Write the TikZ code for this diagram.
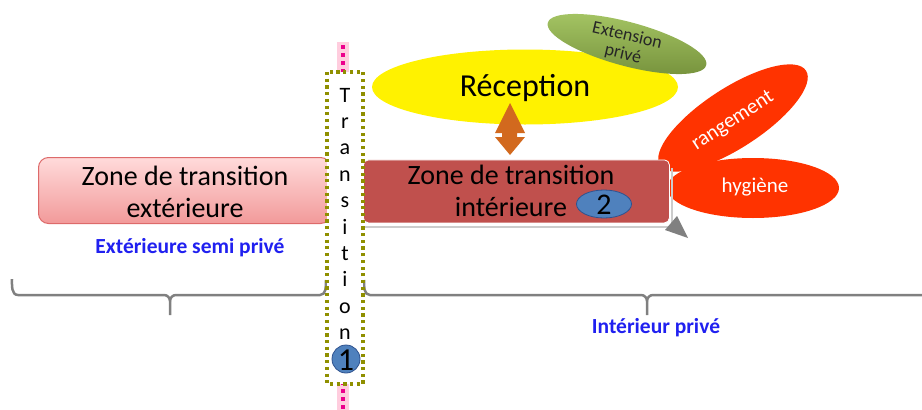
\documentclass[tikz,border=0pt]{standalone}
\usepackage{fontspec}
\setmainfont{Carlito}
\usetikzlibrary{shapes.geometric}
\definecolor{darkred}{HTML}{C0504D}
\definecolor{redorange}{HTML}{FF3300}
\definecolor{arrorange}{HTML}{D2691E}
\definecolor{olivedot}{HTML}{8F8F00}
\definecolor{numblue}{HTML}{4F81BD}
\definecolor{numblueb}{HTML}{2F528F}
\definecolor{labblue}{HTML}{2020F0}
\definecolor{greentop}{HTML}{A5C564}
\definecolor{greenbot}{HTML}{76923C}
\definecolor{pinkglow}{HTML}{FFB8D0}
\definecolor{pinkbox}{HTML}{FFDADA}
\definecolor{salmon}{HTML}{F29A9A}
\definecolor{pinkborder}{HTML}{DD6A6A}
\tikzset{
  brace/.style={draw=gray, line width=2.5pt, line join=round},
  bigtext/.style={font=\fontsize{28}{32}\selectfont, align=center, inner sep=0pt},
  whitetext/.style={text=white, font=\fontsize{21}{21}\selectfont},
  redell/.style={ellipse, fill=redorange, inner sep=0pt},
  lab/.style={text=labblue, font=\bfseries\fontsize{21.5}{21.5}\selectfont},
  letter/.style={anchor=base, font=\fontsize{22}{22}\selectfont, inner sep=0pt},
}
\begin{document}
\begin{tikzpicture}[x=1pt,y=-1pt]
\useasboundingbox (0,0) rectangle (922,410);

% pink dotted line
\fill[pinkglow, opacity=0.7] (337,42) rectangle (349,410);
\draw[magenta, line width=4pt, dash pattern=on 4pt off 4pt] (343,45) -- (343,410);

% braces
\draw[brace] (12,279) to[out=-90,in=180] (18,295) -- (164,295) to[out=0,in=90] (170,301) -- (170,315);
\draw[brace] (170,301) to[out=90,in=180] (176,295) -- (320,295) to[out=0,in=-90] (326,280);
\draw[brace] (364,280) to[out=-90,in=180] (370,295) -- (641,295) to[out=0,in=90] (647,301) -- (647,315);
\draw[brace] (647,301) to[out=90,in=180] (653,295) -- (922,295);

% labels
\node[lab] (ext) at (190,248) {Extérieure semi privé};
\node[lab] (int) at (656,328) {Intérieur privé};

% left box
\node[rectangle, rounded corners=10pt, top color=pinkbox, bottom color=salmon, draw=pinkborder, line width=1pt,
      minimum width=292pt, minimum height=66pt, anchor=north west] (zext) at (38,157) {};
\node[bigtext] (zextt) at (185,192) {Zone de transition\\extérieure};

% red ellipses
\node[redell, minimum width=174pt, minimum height=60pt, rotate=33] (rang) at (733,118) {};
\node[whitetext, rotate=33] (rangt) at (733,121) {rangement};
\node[redell, minimum width=172pt, minimum height=60pt] (hyg) at (753,188) {};
\node[whitetext] (hygt) at (755,187) {hygiène};

% yellow ellipse and green ellipse
\node[ellipse, fill=yellow, minimum width=306pt, minimum height=75pt] (recep) at (525,87) {};
\node[font=\fontsize{32}{32}\selectfont, inner sep=0pt] (recept) at (525,88) {Réception};
\node[ellipse, top color=greentop, bottom color=greenbot, minimum width=164pt, minimum height=44pt, rotate=-15] (extp) at (627,44) {};
\node[font=\fontsize{18}{19}\selectfont, align=center, rotate=-13, text=black!85, inner sep=0pt] (extpt) at (625,45) {Extension\\privé};

% double arrow
\fill[arrorange] (510,103) -- (525,133) -- (517,133) -- (517,137) -- (525,137) -- (510,155)
   -- (495,137) -- (502,137) -- (502,133) -- (495,133) -- cycle;

% interior box with grey edge and triangle
\draw[gray!40, line width=2.5pt] (364,227) -- (672,227) -- (672,168);
\fill[gray] (665,230) -- (677,216) -- (688,238) -- cycle;
\node[rectangle, rounded corners=5pt, fill=darkred, draw=white, line width=0.8pt,
      minimum width=306pt, minimum height=63pt, anchor=north west] (zint) at (363,159.5) {};
\node[bigtext] (zintt) at (511,191) {Zone de transition\\intérieure};
\node[ellipse, fill=numblue, draw=numblueb, line width=0.8pt, minimum width=55pt, minimum height=28pt, inner sep=0pt] (n2) at (604,204) {};
\node[font=\fontsize{30}{30}\selectfont, inner sep=0pt] (n2t) at (604,205) {2};

% transition column
\draw[olivedot, line width=3.2pt, dash pattern=on 3.2pt off 3.5pt, fill=white] (327,72) rectangle (363,384);
\foreach \l [count=\i from 0] in {T,r,a,n,s,i,t,i,o,n}
  \node[letter] (tr\i) at (345,{102+26.4*\i}) {\l};
\node[circle, fill=numblue, draw=numblueb, line width=0.8pt, minimum size=28pt, inner sep=0pt] (n1) at (346,359) {};
\node[font=\fontsize{32}{32}\selectfont, inner sep=0pt] (n1t) at (346,360) {1};
\end{tikzpicture}
\end{document}
